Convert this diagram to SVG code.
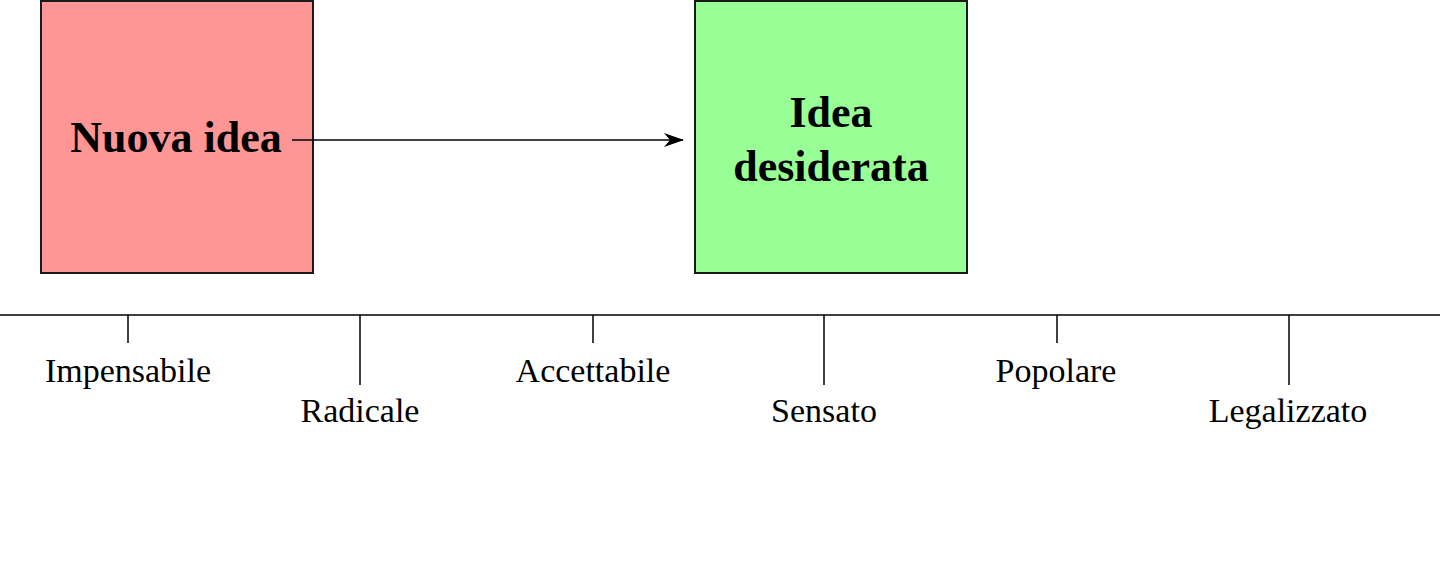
<svg xmlns="http://www.w3.org/2000/svg" width="1456" height="561" viewBox="0 0 1456 561">
<defs>
<style>
.box{stroke:#1a1a1a;stroke-width:2}
.title{font-family:"Liberation Serif",serif;font-weight:bold;font-size:44px;fill:#000;text-anchor:middle}
.lbl{font-family:"Liberation Serif",serif;font-size:34px;fill:#000;text-anchor:middle}
.ln{stroke:#000;stroke-width:1.5;fill:none}
</style>
<marker id="ah" viewBox="0 0 20 14" refX="19" refY="7" markerWidth="20" markerHeight="14" markerUnits="userSpaceOnUse" orient="auto">
<path d="M0,0 L20,7 L0,14 L6,7 Z" fill="#000"/>
</marker>
</defs>
<rect width="1456" height="561" fill="#fff"/>
<g id="nuova">
<rect class="box" x="41" y="1" width="272" height="272" fill="#fe9696"/>
<text class="title" x="176" y="152">Nuova idea</text>
</g>
<g id="desiderata">
<rect class="box" x="695" y="1" width="272" height="272" fill="#98fe96"/>
<text class="title" x="831" y="127">Idea</text>
<text class="title" x="831" y="181">desiderata</text>
</g>
<g id="connectors">
<line class="ln" x1="292" y1="140" x2="683" y2="140" marker-end="url(#ah)"/>
</g>
<g id="axis">
<line class="ln" x1="0" y1="315" x2="1440" y2="315"/>
<line class="ln" x1="128" y1="315" x2="128" y2="343"/>
<line class="ln" x1="360" y1="315" x2="360" y2="385"/>
<line class="ln" x1="593" y1="315" x2="593" y2="343"/>
<line class="ln" x1="824" y1="315" x2="824" y2="385"/>
<line class="ln" x1="1057" y1="315" x2="1057" y2="343"/>
<line class="ln" x1="1289" y1="315" x2="1289" y2="385"/>
<text class="lbl" x="128" y="382">Impensabile</text>
<text class="lbl" x="360" y="422">Radicale</text>
<text class="lbl" x="593" y="382">Accettabile</text>
<text class="lbl" x="824" y="422">Sensato</text>
<text class="lbl" x="1056" y="382">Popolare</text>
<text class="lbl" x="1288" y="422">Legalizzato</text>
</g>
</svg>
